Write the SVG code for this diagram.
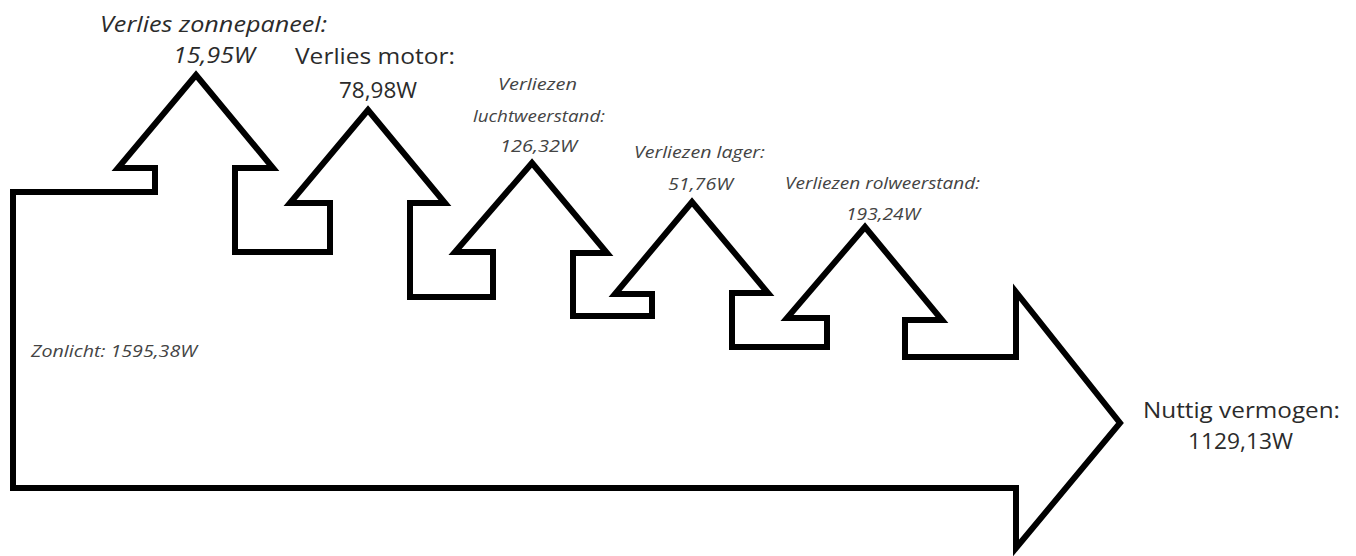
<svg xmlns="http://www.w3.org/2000/svg" width="1356" height="556" viewBox="0 0 1356 556">
<style>
.outline{fill:#fff;stroke:#000;stroke-width:6;stroke-linejoin:miter;stroke-miterlimit:10}
.lbl{font-family:"Open Sans","Liberation Sans",sans-serif;fill:#2b2b2b}
.big{font-size:21px}
.sm{font-size:16px;fill:#444}
.it{font-style:italic}
</style>
<rect width="1356" height="556" fill="#fff"/>
<g id="energy-flow">
<polygon class="outline" points="13,192 155,192 155,168 118,168 196,75 273,168 235,168 235,252 330,252 330,203 290,203 368,110 445,203 410,203 410,297 493,297 493,252 455,252 532,163 607,253 573,253 573,316 652,316 652,294 615,294 692,202 768,293 732,293 732,347 827,347 827,318 787,318 865,227 942,320 905,320 905,357 1016,357 1016,292 1120,423 1016,548 1016,488 13,488"/>
</g>
<g id="label-zonlicht">
<text class="lbl sm it" x="31" y="357" textLength="166" lengthAdjust="spacingAndGlyphs">Zonlicht: 1595,38W</text>
</g>
<g id="label-zonnepaneel">
<text class="lbl big it" x="100" y="32" textLength="227" lengthAdjust="spacingAndGlyphs">Verlies zonnepaneel:</text>
<text class="lbl big it" x="173" y="63" textLength="82" lengthAdjust="spacingAndGlyphs">15,95W</text>
</g>
<g id="label-motor">
<text class="lbl big" x="295" y="64" textLength="160" lengthAdjust="spacingAndGlyphs">Verlies motor:</text>
<text class="lbl big" x="339" y="98" textLength="78" lengthAdjust="spacingAndGlyphs">78,98W</text>
</g>
<g id="label-luchtweerstand">
<text class="lbl sm it" x="498" y="90" textLength="79" lengthAdjust="spacingAndGlyphs">Verliezen</text>
<text class="lbl sm it" x="473" y="122" textLength="132" lengthAdjust="spacingAndGlyphs">luchtweerstand:</text>
<text class="lbl sm it" x="500" y="152" textLength="77" lengthAdjust="spacingAndGlyphs">126,32W</text>
</g>
<g id="label-lager">
<text class="lbl sm it" x="634" y="158" textLength="131" lengthAdjust="spacingAndGlyphs">Verliezen lager:</text>
<text class="lbl sm it" x="668" y="190" textLength="65" lengthAdjust="spacingAndGlyphs">51,76W</text>
</g>
<g id="label-rolweerstand">
<text class="lbl sm it" x="785" y="189" textLength="195" lengthAdjust="spacingAndGlyphs">Verliezen rolweerstand:</text>
<text class="lbl sm it" x="846" y="220" textLength="74" lengthAdjust="spacingAndGlyphs">193,24W</text>
</g>
<g id="label-nuttig">
<text class="lbl big" x="1143" y="418" textLength="197" lengthAdjust="spacingAndGlyphs">Nuttig vermogen:</text>
<text class="lbl big" x="1188" y="449" textLength="105" lengthAdjust="spacingAndGlyphs">1129,13W</text>
</g>
</svg>
